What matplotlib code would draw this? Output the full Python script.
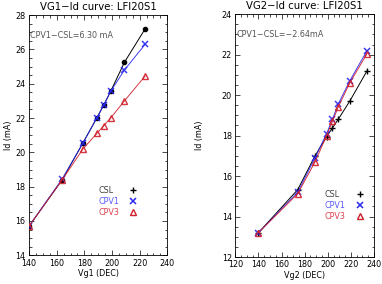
import numpy as np
import matplotlib
matplotlib.use('Agg')
import matplotlib.pyplot as plt
from matplotlib.lines import Line2D
from matplotlib.ticker import MultipleLocator

# VG1 sweep (left panel)
vg1 = [140, 164, 179, 189, 194, 199, 209, 224]
vg1_csl = [15.7, 18.4, 20.55, 22.0, 22.75, 23.55, 25.25, 27.2]
vg1_cpv1 = [15.7, 18.45, 20.55, 22.0, 22.75, 23.55, 24.8, 26.3]
vg1_cpv3 = [15.7, 18.4, 20.2, 21.1, 21.55, 22.0, 23.0, 24.45]

# VG2 sweep (right panel)
vg2 = [140, 174, 189, 199, 204, 209, 219, 234]
vg2_csl = [13.2, 15.33, 17.0, 17.95, 18.37, 18.8, 19.7, 21.2]
vg2_cpv1 = [13.2, 15.2, 16.9, 18.1, 18.8, 19.55, 20.7, 22.2]
vg2_cpv3 = [13.2, 15.13, 16.7, 18.0, 18.7, 19.4, 20.6, 22.05]

titles = ['VG1\u2212Id curve: LFI20S1', 'VG2\u2212Id curve: LFI20S1']
xnames = ['Vg1', 'Vg2']
notes = ['CPV1\u2212CSL=6.30 mA', 'CPV1\u2212CSL=\u22122.64mA']
series = ['CSL', 'CPV1', 'CPV3']

blue = '#2828f0'
red = '#d0202c'
fs = 5.8

fig = plt.figure(figsize=(3.82, 2.84), dpi=100)
ax1 = fig.add_axes([0.076, 0.101, 0.362, 0.846])
ax2 = fig.add_axes([0.616, 0.095, 0.363, 0.855])

# legend text x, marker x, y centre (axes fraction), ylabel pad
panels = [
    (ax1, vg1, vg1_csl, vg1_cpv1, vg1_cpv3, (140, 240), (14, 28), 'o', (0.5, 0.755, 0.224), 2),
    (ax2, vg2, vg2_csl, vg2_cpv1, vg2_cpv3, (120, 240), (12, 24), '+', (0.64, 0.90, 0.212), 13),
]

for i, (ax, x, csl, cpv1, cpv3, xl, yl, cm, lpos, ypad) in enumerate(panels):
    ax.plot(x, csl, color='black', lw=0.7, marker=cm,
            ms=3.0 if cm == 'o' else 4, mew=1.0, zorder=3)
    ax.plot(x, cpv1, color=blue, lw=0.7, alpha=0.9, marker='x', ms=4,
            mew=1.1, mec=blue, zorder=4)
    ax.plot(x, cpv3, color=red, lw=0.7, alpha=0.9, marker='^', ms=4,
            mew=1.0, mfc='none', mec=red, zorder=5)
    ax.set_xlim(*xl)
    ax.set_ylim(*yl)
    ax.xaxis.set_major_locator(MultipleLocator(20))
    ax.xaxis.set_minor_locator(MultipleLocator(5))
    ax.yaxis.set_major_locator(MultipleLocator(2))
    ax.yaxis.set_minor_locator(MultipleLocator(0.5))
    ax.tick_params(which='both', direction='in', top=True, right=True,
                   labelsize=fs, width=0.5, pad=2.5)
    ax.tick_params(which='major', length=3.5)
    ax.tick_params(which='minor', length=1.8)
    for s in ax.spines.values():
        s.set_linewidth(0.6)
    ax.set_title(titles[i], fontsize=7.3, pad=3.5)
    ax.set_xlabel(xnames[i] + ' (DEC)', fontsize=fs, labelpad=1)
    ax.set_ylabel('Id (mA)', fontsize=fs, labelpad=ypad)
    ax.text(0.01, 0.915, notes[i], transform=ax.transAxes, fontsize=fs,
            color='#555555', ha='left', va='center')

    # legend: coloured labels on the left, symbols in a column to the right
    blank = [Line2D([], [], ls='none') for _ in series]
    leg1 = ax.legend(blank, series, loc='center left',
                     bbox_to_anchor=(lpos[0], lpos[2]), frameon=False,
                     fontsize=fs, handlelength=0, handletextpad=0,
                     labelspacing=0.28, borderpad=0, borderaxespad=0)
    for t, c in zip(leg1.get_texts(), ['#404040', '#5a5aff', '#e04050']):
        t.set_color(c)
    ax.add_artist(leg1)
    handles = [
        Line2D([], [], color='black', marker='+', ls='none', ms=5, mew=1.0),
        Line2D([], [], color=blue, marker='x', ls='none', ms=4, mew=1.1),
        Line2D([], [], color=red, marker='^', ls='none', ms=4, mew=1.0, mfc='none'),
    ]
    ax.legend(handles, ['', '', ''], loc='center',
              bbox_to_anchor=(lpos[1], lpos[2]), frameon=False,
              fontsize=fs, handlelength=1, handletextpad=0,
              labelspacing=0.28, borderpad=0, borderaxespad=0)

fig.savefig('out.png', dpi=100)
